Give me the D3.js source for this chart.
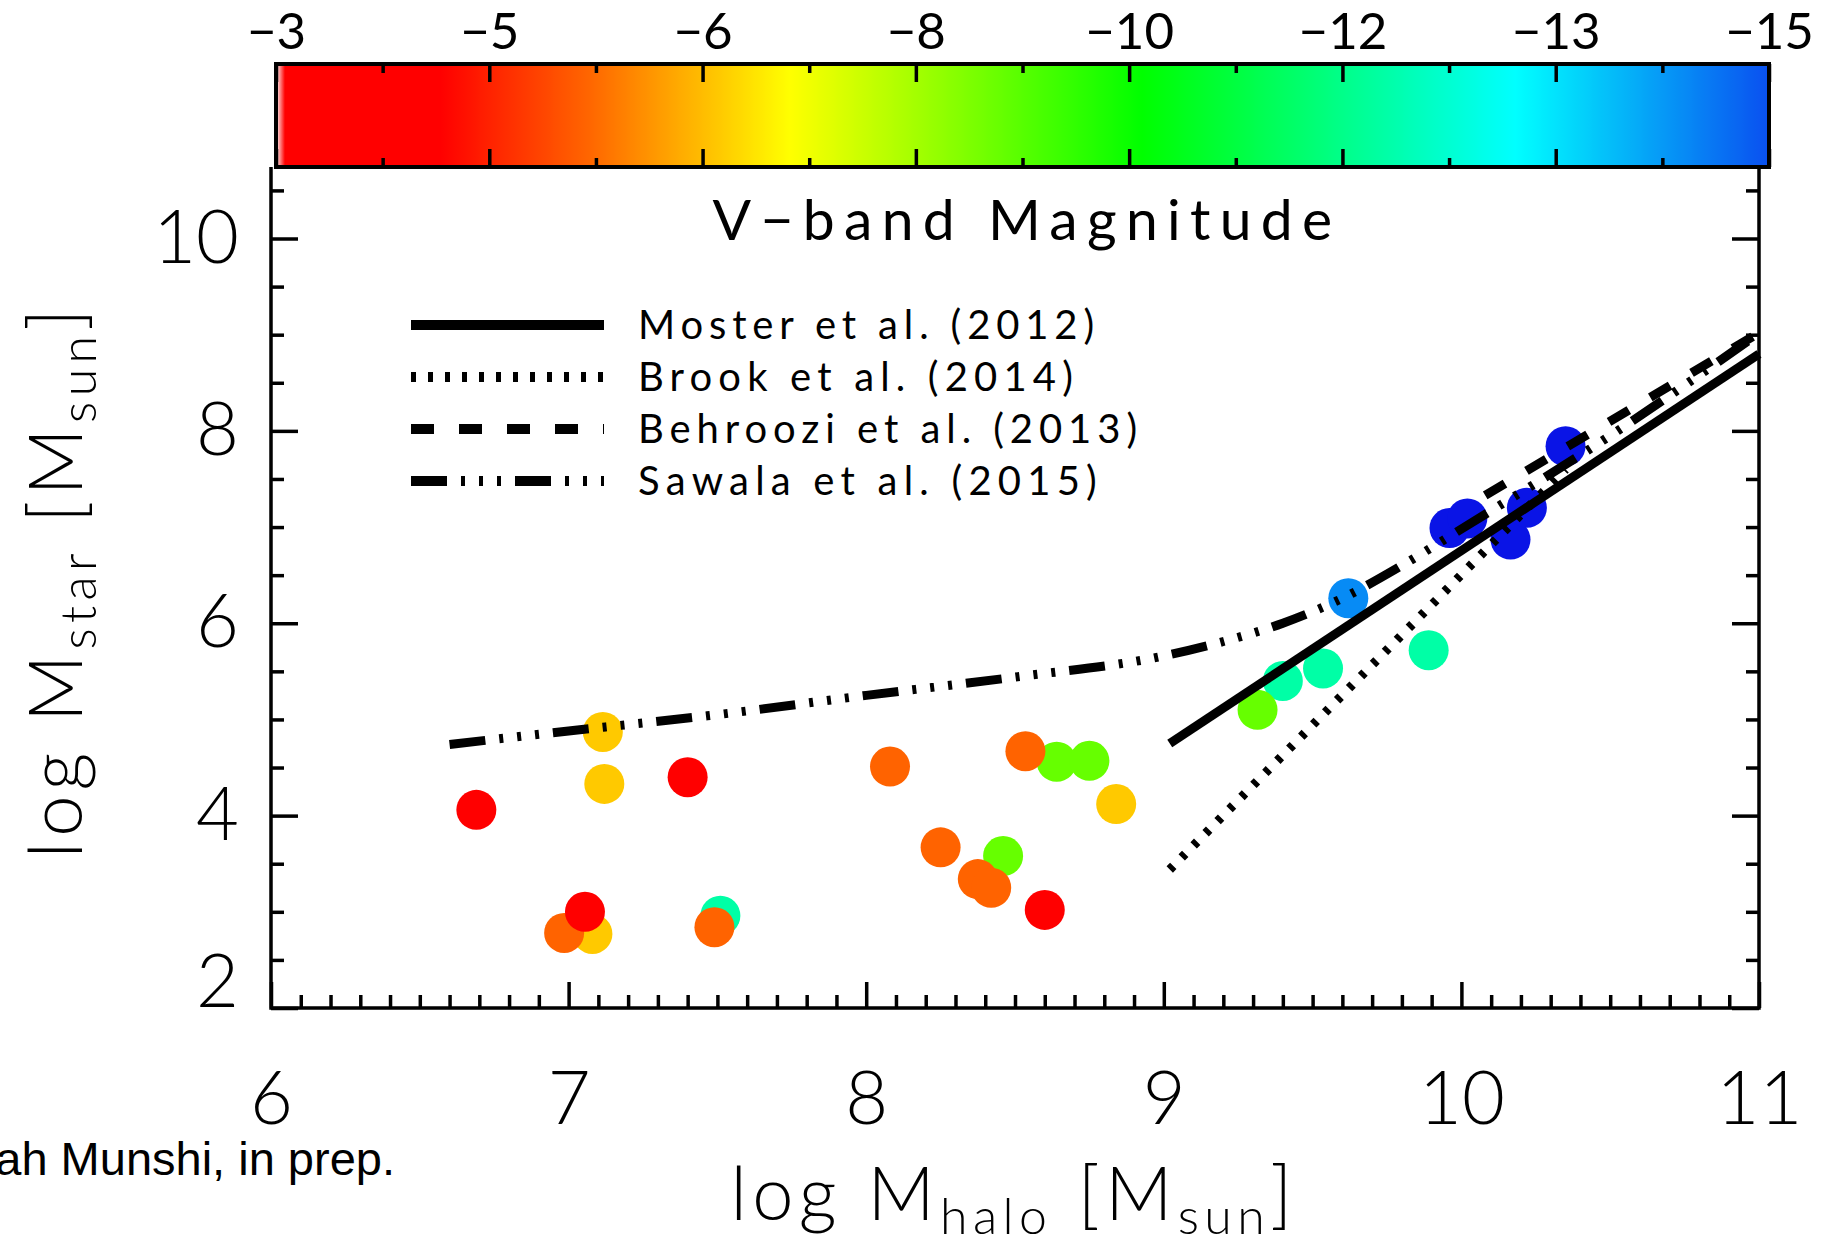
<!DOCTYPE html>
<html>
<head>
<meta charset="utf-8">
<script src="https://cdn.jsdelivr.net/npm/d3@7"></script>
<style>
  html, body { margin: 0; padding: 0; background: #fff; }
  svg { display: block; }
  text { font-family: Lato, "DejaVu Sans", sans-serif; font-weight: 300; fill: #000; }
  .tick line { stroke: #000; stroke-width: 3.5; }
  .domain { display: none; }
</style>
</head>
<body>
<div id="chart"></div>
<script>
// values
let haloMass = [6.69, 7.115, 7.12, 7.40, 7.08, 6.985, 7.055, 7.51, 7.49, 8.08, 8.64, 8.75, 8.535, 8.84,
                8.25, 8.46, 8.375, 8.42, 8.60, 9.40, 9.315, 9.535, 9.89, 9.62, 9.96, 10.02, 10.165, 10.22, 10.35];
let starMass = [4.06, 4.87, 4.33, 4.40, 2.77, 2.78, 3.00, 2.96, 2.84, 4.51, 4.56, 4.57, 4.67, 4.12,
                3.67, 3.58, 3.34, 3.25, 3.02, 5.40, 5.10, 5.53, 5.72, 6.26, 6.99, 7.09, 6.87, 7.20, 7.84];
let vMag = [-4, -6.15, -6.15, -4, -6.15, -5.45, -4, -12.2, -5.45, -5.45, -8.8, -8.8, -5.45, -6.15,
            -5.45, -8.8, -5.45, -5.45, -4, -12.2, -8.8, -12.2, -12.2, -14.2, -16, -16, -16, -16, -16];

let mosterX = [9.02, 11.0];
let mosterY = [4.75, 8.80];
let brookX = [9.02, 10.35];
let brookY = [3.44, 7.60];
let behrooziX = [10.08, 11.0];
let behrooziY = [7.33, 9.02];
let sawalaX = [6.6, 7.0, 7.5, 8.0, 8.5, 9.0, 9.2, 9.4, 9.6, 9.8, 10.0, 10.5, 10.97];
let sawalaY = [4.74, 4.88, 5.05, 5.25, 5.44, 5.66, 5.81, 6.0, 6.26, 6.6, 6.98, 7.95, 8.95];

let legendNames = ["Moster et al. (2012)", "Brook et al. (2014)", "Behroozi et al. (2013)", "Sawala et al. (2015)"];
let barLabels = [-3, -5, -6, -8, -10, -12, -13, -15];
let xTicks = [6, 7, 8, 9, 10, 11];
let yTicks = [2, 4, 6, 8, 10];

let width = 1833, height = 1244;

let svg = d3.select("#chart").append("svg").attr("width", width).attr("height", height);

let xScale = d3.scaleLinear().domain([6, 11]).range([271, 1759]);
let yScale = d3.scaleLinear().domain([2, 10]).range([1008, 238.5]);

// colour bar: magnitude -> position along the bar, position -> colour
let barX = d3.scaleLinear().domain(barLabels).range(barLabels.map((d, i) => 276 + i * (1769 - 276) / 7));
let barT = d3.scaleLinear().domain([276, 1769]).range([0, 1]);
let colorAt = d3.scaleLinear()
    .domain([0, 0.006, 0.11, 0.21, 0.344, 0.58, 0.83, 1.0, 1.07])
    .range(["#ffffff", "#ff0000", "#ff0000", "#ff6600", "#ffff00", "#00ff00", "#00ffff", "#0a50f0", "#0a14e6"])
    .clamp(true);
function magColor(m) { return colorAt(barT(barX(m))); }

let grad = svg.append("defs").append("linearGradient").attr("id", "bar").attr("x1", "0%").attr("x2", "100%");
grad.selectAll("stop").data(d3.range(0, 1.0001, 0.002)).enter().append("stop")
    .attr("offset", d => (d * 100) + "%").attr("stop-color", d => colorAt(d));

svg.append("rect").attr("x", 276).attr("y", 64).attr("width", 1769 - 276).attr("height", 167 - 64)
    .attr("fill", "url(#bar)");

let barMinor = [-4, -5.5, -7, -9, -11, -12.5, -14];
let barTop = svg.append("g").attr("transform", "translate(0,64)")
    .call(d3.axisTop(barX).tickValues(barLabels).tickSize(-18).tickSizeOuter(0).tickPadding(15).tickFormat(d3.format("d")));
barTop.selectAll("text").style("font-size", "51px").style("font-weight", 400);
svg.append("g").attr("transform", "translate(0,64)")
    .call(d3.axisTop(barX).tickValues(barMinor).tickSize(-9).tickFormat(""));
svg.append("g").attr("transform", "translate(0,167)")
    .call(d3.axisBottom(barX).tickValues(barLabels).tickSize(-18).tickFormat(""));
svg.append("g").attr("transform", "translate(0,167)")
    .call(d3.axisBottom(barX).tickValues(barMinor).tickSize(-9).tickFormat(""));
svg.append("rect").attr("x", 276).attr("y", 64).attr("width", 1769 - 276).attr("height", 167 - 64)
    .attr("fill", "none").attr("stroke", "#000").attr("stroke-width", 4);

// points
let pts = haloMass.map((d, i) => ({x: d, y: starMass[i], m: vMag[i]}));
svg.append("g").selectAll("circle").data(pts).enter().append("circle")
    .attr("cx", d => xScale(d.x)).attr("cy", d => yScale(d.y)).attr("r", 20)
    .attr("fill", d => magColor(d.m));

// model lines
let line = d3.line().x(d => xScale(d[0])).y(d => yScale(d[1]));
let models = [
    {xs: mosterX, ys: mosterY, dash: null},
    {xs: brookX, ys: brookY, dash: "5,12"},
    {xs: behrooziX, ys: behrooziY, dash: "23,25"},
    {xs: sawalaX, ys: sawalaY, dash: "36,14,4,14,4,14,4,14"}
];
models.forEach(function (mdl, i) {
    let data = mdl.xs.map((d, j) => [d, mdl.ys[j]]);
    svg.append("path")
        .attr("d", i === 3 ? line.curve(d3.curveMonotoneX)(data) : line.curve(d3.curveLinear)(data))
        .attr("fill", "none").attr("stroke", "#000").attr("stroke-width", 9)
        .attr("stroke-dasharray", mdl.dash);
});

// axes
let xAx = svg.append("g").attr("transform", "translate(0,1008)")
    .call(d3.axisBottom(xScale).tickValues(xTicks).tickSize(-26).tickSizeOuter(0).tickPadding(63).tickFormat(d3.format("d")));
xAx.selectAll("text").style("font-size", "74px");
svg.append("g").attr("transform", "translate(0,1008)")
    .call(d3.axisBottom(xScale).tickValues(d3.range(61, 110).filter(i => i % 10).map(i => i / 10)).tickSize(-13).tickFormat(""));

let yMinor = d3.range(5, 22).filter(i => i % 4 !== 0).map(i => i / 2);
let yAx = svg.append("g").attr("transform", "translate(271,0)")
    .call(d3.axisLeft(yScale).tickValues(yTicks).tickSize(-27).tickSizeOuter(0).tickPadding(32).tickFormat(d3.format("d")));
yAx.selectAll("text").style("font-size", "74px").filter(d => d === 2).attr("y", -25);
svg.append("g").attr("transform", "translate(271,0)")
    .call(d3.axisLeft(yScale).tickValues(yMinor).tickSize(-13).tickFormat(""));
svg.append("g").attr("transform", "translate(1759,0)")
    .call(d3.axisRight(yScale).tickValues(yTicks).tickSize(-27).tickFormat(""));
svg.append("g").attr("transform", "translate(1759,0)")
    .call(d3.axisRight(yScale).tickValues(yMinor).tickSize(-13).tickFormat(""));

svg.append("path").attr("d", "M271,167V1008H1759V167")
    .attr("fill", "none").attr("stroke", "#000").attr("stroke-width", 3.5);

function fitWidth(sel, w) {
    sel.each(function () {
        let n = this.getNumberOfChars();
        let len = this.getComputedTextLength();
        d3.select(this).style("letter-spacing", ((w - len) / n) + "px");
    });
}

// legend
let rowY = [325, 377, 429, 481];
let legendW = [462, 441, 505, 465];
let legend = svg.append("g");
models.forEach(function (mdl, i) {
    legend.append("line").attr("x1", 411).attr("x2", 604).attr("y1", rowY[i]).attr("y2", rowY[i])
        .attr("stroke", "#000").attr("stroke-width", 10).attr("stroke-dasharray", mdl.dash);
    legend.append("text").attr("x", 638).attr("y", rowY[i] + 14).style("font-size", "40px").style("font-weight", 400)
        .text(legendNames[i]).call(fitWidth, legendW[i]);
});

svg.append("text").attr("x", 1027).attr("y", 240).attr("text-anchor", "middle")
    .style("font-size", "57px").style("font-weight", 400)
    .text("V\u2212band Magnitude").call(fitWidth, 629);

// axis titles
let xt = svg.append("text").attr("x", 1014).attr("y", 1220).attr("text-anchor", "middle").style("font-size", "74px");
xt.append("tspan").text("log M");
xt.append("tspan").attr("dy", 14).style("font-size", "50px").text("halo");
xt.append("tspan").attr("dy", -14).text(" [M");
xt.append("tspan").attr("dy", 14).style("font-size", "50px").text("sun");
xt.append("tspan").attr("dy", -14).text("]");
xt.call(fitWidth, 567);

let yt = svg.append("text").attr("transform", "translate(82,581) rotate(-90)").attr("text-anchor", "middle").style("font-size", "74px");
yt.append("tspan").text("log M");
yt.append("tspan").attr("dy", 14).style("font-size", "50px").text("star");
yt.append("tspan").attr("dy", -14).text(" [M");
yt.append("tspan").attr("dy", 14).style("font-size", "50px").text("sun");
yt.append("tspan").attr("dy", -14).text("]");
yt.call(fitWidth, 555);

svg.append("text").attr("x", 395).attr("y", 1175).attr("text-anchor", "end")
    .style("font-family", "'Liberation Sans', Arial, sans-serif").style("font-weight", 400).style("font-size", "47px")
    .text("Ferah Munshi, in prep.");
</script>
</body>
</html>
